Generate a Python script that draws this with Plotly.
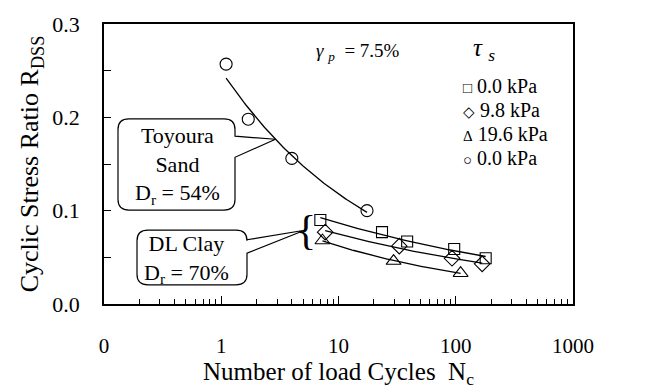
import numpy as np
import plotly.graph_objects as go

# ---- data: number of load cycles N_c and cyclic stress ratio R_DSS ----
toyoura_n = [1.1, 1.7, 4.0, 17.5]
toyoura_r = [0.257, 0.198, 0.156, 0.100]

clay_00_n = [7.0, 23.5, 38.5, 97, 180]
clay_00_r = [0.090, 0.077, 0.067, 0.059, 0.049]

clay_98_n = [7.7, 33, 93, 168]
clay_98_r = [0.077, 0.062, 0.049, 0.043]

clay_196_n = [7.3, 29.5, 110]
clay_196_r = [0.068, 0.046, 0.033]

legend_labels = ["0.0 kPa", "9.8 kPa", "19.6 kPa", "0.0 kPa"]
legend_glyphs = ["\u25a1", "\u25c7", "\u0394", "\u25cb"]

x_tickvals = [0.1, 1, 10, 100, 1000]
x_ticktext = ["0", "1", "10", "100", "1000"]
y_tickvals = [0, 0.1, 0.2, 0.3]
y_ticktext = ["0.0", "0.1", "0.2", "0.3"]

# ---- layout geometry ----
W, H = 649, 391
ML, MR, MT, MB = 104, 76, 13, 86
PW, PH = W - ML - MR, H - MT - MB
LOGX = (-1, 3)
YR = (0, 0.3)
FONT = "Liberation Serif"


def px(x, y):
    """Pixel position on the page -> paper coordinates."""
    return (x - ML) / PW, (H - MB - y) / PH


def dp(n, r):
    """Data point -> paper coordinates."""
    return ((np.log10(n) - LOGX[0]) / (LOGX[1] - LOGX[0]), (r - YR[0]) / (YR[1] - YR[0]))


def power_fit(n, r, num=80):
    """Power-law trend R = a N^b between the first and last cycle count."""
    b, a = np.polyfit(np.log10(n), np.log10(r), 1)
    xs = np.logspace(np.log10(min(n)), np.log10(max(n)), num)
    return xs, 10 ** (a + b * np.log10(xs)), (a, b)


fig = go.Figure()

series = [
    (clay_00_n, clay_00_r, "square-open", 11),
    (clay_98_n, clay_98_r, "diamond-open", 12),
    (clay_196_n, clay_196_r, "triangle-up-open", 13),
    (toyoura_n, toyoura_r, "circle-open", 12),
]

fits = []
for n, r, sym, size in series:
    xs, ys, coef = power_fit(n, r)
    fits.append(coef)
    fig.add_trace(go.Scatter(x=xs, y=ys, mode="lines",
                             line=dict(color="black", width=1.3),
                             showlegend=False, hoverinfo="skip"))
    fig.add_trace(go.Scatter(x=n, y=r, mode="markers",
                             marker=dict(symbol=sym, size=size, color="black",
                                         line=dict(width=1.1, color="black")),
                             showlegend=False))


def callout(x0, y0, x1, y1, b0, b1, tip, rad=11):
    """Rounded box (pixels) with a pointer leaving its right side at heights b0..b1."""
    X0, Y0 = px(x0, y0)
    X1, Y1 = px(x1, y1)
    rx, ry = rad / PW, rad / PH
    _, B0 = px(0, b0)
    _, B1 = px(0, b1)
    tx, ty = tip
    return (f"M {X0 + rx},{Y0} L {X1 - rx},{Y0} Q {X1},{Y0} {X1},{Y0 - ry} "
            f"L {X1},{B0} L {tx},{ty} L {X1},{B1} "
            f"L {X1},{Y1 + ry} Q {X1},{Y1} {X1 - rx},{Y1} "
            f"L {X0 + rx},{Y1} Q {X0},{Y1} {X0},{Y1 + ry} "
            f"L {X0},{Y0 - ry} Q {X0},{Y0} {X0 + rx},{Y0} Z")


# pointer tips: one on the sand trend, one at the clay brace
a_s, b_s = fits[3]
n_tip = 2.9
sand_tip = dp(n_tip, 10 ** (a_s + b_s * np.log10(n_tip)))
brace_n, brace_r = 5.3, 0.079
clay_tip = dp(brace_n * 0.97, brace_r)

shapes = [
    dict(type="path", xref="paper", yref="paper",
         path=callout(118, 112, 235, 207, 130, 152, sand_tip),
         line=dict(color="black", width=1.2), fillcolor="white"),
    dict(type="path", xref="paper", yref="paper",
         path=callout(137, 228, 247, 285, 238, 252, clay_tip),
         line=dict(color="black", width=1.2), fillcolor="white"),
]

annotations = []


def text(x, y, s, size=20, xanchor="center"):
    X, Y = px(x, y)
    annotations.append(dict(x=X, y=Y, xref="paper", yref="paper", text=s,
                            showarrow=False, xanchor=xanchor, yanchor="middle",
                            font=dict(family=FONT, size=size, color="black")))


text(177, 161, "Toyoura<br>Sand<br>D<sub>r</sub> = 54%", 22)
text(186, 258, "DL Clay<br>D<sub>r</sub> = 70%", 22)
text(358, 42, "<i>\u03b3</i>\u00a0<sub><i>p</i></sub>\u00a0 = 7.5%", 19)
text(484, 40, "<i>\u03c4</i>\u00a0<sub><i>s</i></sub>", 25)
for i, (g, lab) in enumerate(zip(legend_glyphs, legend_labels)):
    text(461, 78 + 25 * i, f"<span style='font-size:15px'>{g}</span> {lab}", 20, "left")

# brace grouping the three clay series
bx, by = dp(brace_n, brace_r)
annotations.append(dict(x=bx, y=by, xref="paper", yref="paper", text="{",
                        showarrow=False, xanchor="center", yanchor="middle",
                        font=dict(family=FONT, size=42, color="black")))

fig.update_layout(
    width=W, height=H,
    margin=dict(l=ML, r=MR, t=MT, b=MB),
    paper_bgcolor="white", plot_bgcolor="white",
    font=dict(family=FONT, size=21, color="black"),
    shapes=shapes, annotations=annotations,
    showlegend=False,
)

fig.update_xaxes(
    type="log", range=list(LOGX),
    tickmode="array", tickvals=x_tickvals, ticktext=x_ticktext,
    ticks="inside", ticklen=8, tickwidth=1, tickcolor="black",
    ticklabelstandoff=22,
    tickfont=dict(family=FONT, size=21),
    minor=dict(tickmode="array",
               tickvals=[k * 10.0 ** d for d in range(-1, 3) for k in range(2, 10)],
               ticks="inside", ticklen=5, tickwidth=1, tickcolor="black", showgrid=False),
    showline=True, linecolor="black", linewidth=1.5, mirror=True,
    showgrid=False, zeroline=False,
    title=dict(text="Number of load Cycles \u00a0N<sub>c</sub>",
               font=dict(family=FONT, size=25), standoff=4),
)
fig.update_yaxes(
    range=list(YR),
    tickmode="array", tickvals=y_tickvals, ticktext=y_ticktext,
    ticks="inside", ticklen=7, tickwidth=1, tickcolor="black",
    ticklabelstandoff=18,
    tickfont=dict(family=FONT, size=22),
    minor=dict(tickmode="array", tickvals=[0.05, 0.15, 0.25],
               ticks="inside", ticklen=7, tickwidth=1, tickcolor="black", showgrid=False),
    showline=True, linecolor="black", linewidth=1.5, mirror=True,
    showgrid=False, zeroline=False,
    title=dict(text="Cyclic Stress Ratio R<sub>DSS</sub>",
               font=dict(family=FONT, size=26), standoff=6),
)

fig.write_html("out.html")
